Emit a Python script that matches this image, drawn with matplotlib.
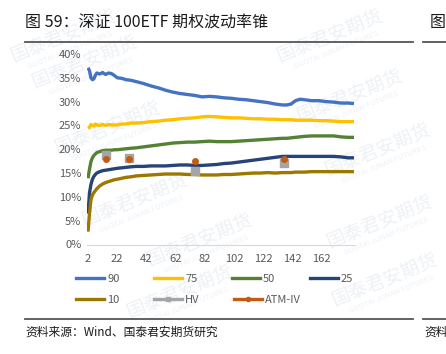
import matplotlib
matplotlib.use("Agg")
import matplotlib.pyplot as plt
from matplotlib.lines import Line2D

plt.rcParams['font.family'] = ['Noto Sans CJK SC', 'DejaVu Sans']

W, H = 446, 354

days = [2, 3, 4, 5, 6, 7, 8, 10, 12, 14, 16, 18, 20, 22, 25, 28, 31, 35, 40, 45,
        50, 55, 60, 65, 70, 75, 80, 85, 90, 95, 100, 105, 110, 115, 120, 125, 130,
        135, 138, 141, 144, 147, 150, 155, 160, 165, 170, 175, 180, 184]

p90 = [37.1, 36.5, 35.0, 34.6, 34.8, 35.5, 36.0, 35.8, 36.1, 35.7, 36.0, 35.9, 35.5,
       35.0, 34.9, 34.6, 34.5, 34.2, 33.8, 33.3, 32.9, 32.4, 32.0, 31.7, 31.5, 31.3,
       31.0, 31.1, 31.0, 30.8, 30.7, 30.5, 30.4, 30.2, 30.0, 29.8, 29.5, 29.3, 29.3,
       29.5, 30.2, 30.5, 30.4, 30.2, 30.2, 30.0, 29.9, 29.7, 29.7, 29.6]
p75 = [24.4, 24.6, 25.2, 25.0, 24.9, 25.3, 25.1, 25.0, 25.2, 25.0, 25.2, 25.1, 25.1,
       25.1, 25.3, 25.3, 25.5, 25.5, 25.6, 25.8, 25.9, 26.1, 26.2, 26.4, 26.5, 26.6,
       26.8, 26.9, 26.8, 26.7, 26.6, 26.6, 26.5, 26.4, 26.4, 26.3, 26.3, 26.2, 26.2,
       26.2, 26.1, 26.1, 26.1, 26.1, 26.0, 26.0, 25.9, 25.8, 25.8, 25.8]
p50 = [13.9, 15.8, 17.4, 18.2, 18.7, 19.0, 19.3, 19.5, 19.7, 19.8, 19.8, 19.8, 19.9,
       19.9, 20.0, 20.1, 20.2, 20.3, 20.5, 20.7, 20.9, 21.1, 21.3, 21.4, 21.5, 21.5,
       21.6, 21.7, 21.6, 21.6, 21.6, 21.7, 21.8, 21.9, 22.0, 22.1, 22.2, 22.3, 22.3,
       22.4, 22.5, 22.6, 22.7, 22.8, 22.8, 22.8, 22.8, 22.6, 22.5, 22.5]
p25 = [6.5, 10.8, 12.6, 13.7, 14.3, 14.7, 15.0, 15.3, 15.5, 15.6, 15.7, 15.8, 15.9,
       16.0, 16.1, 16.2, 16.3, 16.4, 16.4, 16.5, 16.5, 16.5, 16.6, 16.7, 16.7, 16.6,
       16.6, 16.7, 16.8, 17.0, 17.1, 17.3, 17.5, 17.7, 17.9, 18.1, 18.3, 18.5, 18.5,
       18.5, 18.5, 18.5, 18.5, 18.5, 18.5, 18.5, 18.5, 18.4, 18.2, 18.2]
p10 = [2.7, 6.5, 9.4, 10.4, 10.9, 11.3, 11.7, 12.3, 12.7, 13.0, 13.2, 13.4, 13.6,
       13.7, 13.9, 14.1, 14.2, 14.4, 14.5, 14.6, 14.7, 14.8, 14.8, 14.8, 14.7, 14.7,
       14.6, 14.6, 14.6, 14.7, 14.7, 14.8, 14.9, 15.0, 15.0, 15.1, 15.0, 15.1, 15.1,
       15.1, 15.2, 15.2, 15.2, 15.3, 15.3, 15.3, 15.3, 15.3, 15.3, 15.3]

point_days = [14, 30, 75, 136]
hv = [18.8, 18.1, 15.4, 17.2]
atm_iv = [17.9, 17.9, 17.6, 17.9]

xticks = [2, 22, 42, 62, 82, 102, 122, 142, 162]
yticks = [0, 5, 10, 15, 20, 25, 30, 35, 40]

series = [('90', p90, '#4472C4'), ('75', p75, '#FFC000'), ('50', p50, '#548235'),
          ('25', p25, '#264478'), ('10', p10, '#9C7800')]
hv_color = '#A5A5A5'
iv_color = '#C55A11'

fig = plt.figure(figsize=(W / 100, H / 100), dpi=100)

# faint watermarks behind everything
wm_pos = [(85, 62), (108, 128), (135, 200), (180, 292), (200, 240), (330, 36),
          (350, 96), (378, 150), (380, 222), (385, 280), (64, 36)]
for (px, py) in wm_pos:
    fig.text(px / W, 1 - py / H, '国泰君安期货', fontsize=13.5, color='#edf1f6',
             rotation=22, ha='center', va='center', zorder=-5)
    fig.text((px + 6) / W, 1 - (py + 14) / H, 'GUOTAI JUNAN FUTURES', fontsize=5.5,
             color='#edf1f6', rotation=22, ha='center', va='center', zorder=-5)

ax = fig.add_axes([87 / W, 1 - 244.5 / H, (355 - 87) / W, (244.5 - 54) / H])
ax.patch.set_alpha(0)

for name, vals, c in series:
    ax.plot(days, vals, color=c, lw=2.4, solid_capstyle='butt')
ax.plot(point_days, hv, 's', color=hv_color, ms=5.5, zorder=5)
ax.plot(point_days, atm_iv, 'o', color=iv_color, ms=4, zorder=6)

ax.set_xlim(1.3, 184.7)
ax.set_ylim(0, 40)
ax.set_xticks(xticks)
ax.set_yticks(yticks)
ax.set_yticklabels([f'{v}%' for v in yticks])
ax.tick_params(length=0, labelsize=8, labelcolor='#595959')
ax.tick_params(axis='x', pad=7)
ax.tick_params(axis='y', pad=4)
for s in ['top', 'right', 'left']:
    ax.spines[s].set_visible(False)
ax.spines['bottom'].set_color('#D9D9D9')
ax.spines['bottom'].set_linewidth(0.8)

# legends (two rows so columns line up like Excel)
row1 = [Line2D([], [], color=c, lw=2.4) for _, _, c in series[:4]]
row2 = [Line2D([], [], color=series[4][2], lw=2.4),
        Line2D([], [], color=hv_color, lw=2.4, marker='s', ms=3),
        Line2D([], [], color=iv_color, lw=2.4, marker='o', ms=3)]
kw = dict(frameon=False, fontsize=8, labelcolor='#595959', handlelength=2.55,
          handletextpad=0.25, columnspacing=3.1, borderpad=0, borderaxespad=0,
          loc='center left')
fig.legend(row1, [s[0] for s in series[:4]], ncol=4,
           bbox_to_anchor=(76 / W, 1 - 279 / H), **kw)
fig.legend(row2, ['10', 'HV', 'ATM-IV'], ncol=4,
           bbox_to_anchor=(76 / W, 1 - 300 / H), **kw)

# header / footer
fig.text(25 / W, 1 - 23 / H, '图 59：深证 100ETF 期权波动率锥', fontsize=11.5,
         color='#1a1a1a', va='center', ha='left')
fig.text(430 / W, 1 - 23 / H, '图', fontsize=11.5, color='#1a1a1a', va='center', ha='left')
for y in (42, 319):
    fig.add_artist(Line2D([25 / W, 413 / W], [1 - y / H] * 2, color='#555555', lw=1.3))
    fig.add_artist(Line2D([423 / W, 1.0], [1 - y / H] * 2, color='#555555', lw=1.3))
fig.text(25 / W, 1 - 332 / H, '资料来源：Wind、国泰君安期货研究', fontsize=8.5,
         color='#1a1a1a', va='center', ha='left')
fig.text(424 / W, 1 - 332 / H, '资料', fontsize=8.5, color='#1a1a1a', va='center', ha='left')

fig.savefig('out.png', dpi=100)
